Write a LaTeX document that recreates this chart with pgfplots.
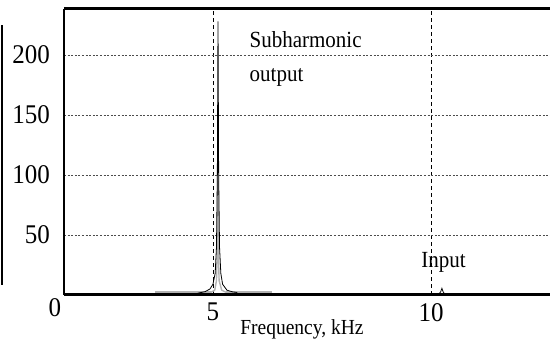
\documentclass[border=0pt]{standalone}
\usepackage{pgfplots}
\pgfplotsset{compat=1.18}
\usepackage{fontspec}
\setmainfont{Liberation Serif}

\begin{document}
\begin{tikzpicture}
\begin{axis}[
  scale only axis, width=486pt, height=286pt,
  at={(0,0)}, anchor=south west,
  xmin=1.583, xmax=12.729, ymin=0, ymax=238.3,
  axis line style={draw=none},
  xtick={5,10}, ytick={50,100,150,200},
  major tick length=0pt,
  xmajorgrids, ymajorgrids,
  x grid style={black, line width=0.6pt, dash pattern=on 4pt off 3pt},
  y grid style={black!70, line width=0.9pt, dash pattern=on 2pt off 1.6pt},
  /pgf/number format/assume math mode=true,
  tick label style={font=\fontsize{25}{28}\selectfont, yscale=1.08, transform shape},
  xticklabel style={anchor=center, yshift=-16pt},
  yticklabel style={anchor=east, inner sep=0pt, xshift=-14pt},
  clip=false,
]
% frame: thin left edge, heavy top and bottom edges
\draw[black, line width=1.6pt] (rel axis cs:0,0) -- (rel axis cs:0,1);
\draw[black, line width=3pt] (rel axis cs:0,1) -- (rel axis cs:1,1);

% broad trace (grey): wide floor and narrow peak
\addplot[gray!60, line width=2.4pt] coordinates {
  (3.67,2.2) (4.95,2.2)
};
\addplot[gray!60, line width=2.4pt] coordinates {
  (5.30,2.2) (6.35,2.2)
};
\addplot[gray!60, line width=1.4pt] coordinates {
  (4.95,2.2) (5.04,4) (5.08,12) (5.10,40) (5.112,132)
  (5.122,40) (5.14,12) (5.20,4) (5.30,2.2)
};
% fine trace (black)
\addplot[black, line width=0.8pt] coordinates {
  (4.65,1.5) (4.82,2.8) (4.93,5) (5.00,9) (5.05,18) (5.08,40) (5.10,100)
  (5.115,228) (5.13,100) (5.15,40) (5.18,18) (5.22,9) (5.32,4) (5.45,2.6)
  (5.53,2.2) (5.56,1.5)
};
% input line
\addplot[black, line width=0.8pt] coordinates {
  (10.15,0) (10.22,2.5) (10.25,5.5) (10.28,2.5) (10.33,0)
};

\draw[black, line width=3pt] (rel axis cs:0,0) -- (rel axis cs:1,0);

\node[font=\fontsize{25}{28}\selectfont, anchor=center, yscale=1.08, transform shape]
  at ([xshift=-9pt, yshift=-13pt] rel axis cs:0,0) {0};

\tikzset{note/.style={font=\fontsize{21}{24}\selectfont, anchor=base west, yscale=1.1, transform shape}}
\node[note] at (axis cs:5.76,206.5) {Subharmonic};
\node[note] at (axis cs:5.76,177.5) {output};
\node[note] at (axis cs:9.70,23.3) {Input};
\node[font=\fontsize{19.5}{22}\selectfont, anchor=base, yscale=1.1, transform shape]
  at (axis cs:7.04,-33.3) {Frequency, kHz};
\end{axis}
% separate bar at the far left
\draw[black, line width=1.5pt] (-62pt,10pt) -- (-62pt,270pt);
\pgfresetboundingbox
\useasboundingbox (-64pt,-49pt) rectangle (486pt,295pt);
\end{tikzpicture}
\end{document}
